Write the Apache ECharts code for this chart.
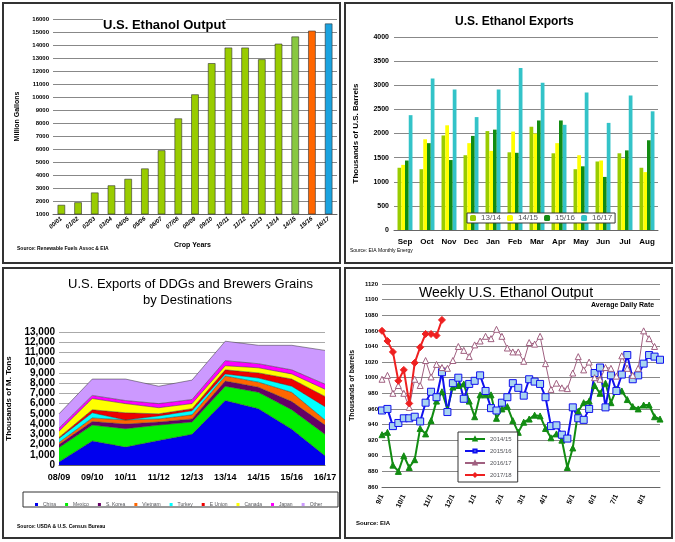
<!DOCTYPE html>
<html><head><meta charset="utf-8">
<script src="https://cdn.jsdelivr.net/npm/echarts@6/dist/echarts.min.js"></script>
<style>html,body{margin:0;padding:0;background:#fff}#c{width:675px;height:542px}</style>
</head><body><div id="c"></div>
<script>
// Panel 1
const cropYears = ['00/01','01/02','02/03','03/04','04/05','05/06','06/07','07/08','08/09','09/10','10/11','11/12','12/13','13/14','14/15','15/16','16/17'];
const outputValues = [1700,1900,2650,3200,3700,4500,5900,8350,10200,12600,13800,13800,12900,14100,14650,15100,15650];
// Panel 2
const months = ['Sep','Oct','Nov','Dec','Jan','Feb','Mar','Apr','May','Jun','Jul','Aug'];
const exp1314 = [1290,1260,1960,1550,2050,1610,2140,1590,1260,1420,1590,1290];
const exp1415 = [1350,1880,2170,1800,1640,2040,2000,1800,1550,1440,1480,1200];
const exp1516 = [1440,1800,1450,1950,2080,1600,2270,2270,1320,1100,1650,1860];
const exp1617 = [2380,3140,2910,2340,2910,3360,3050,2180,2850,2220,2790,2460];
// Panel 3
const ddgYears = ['08/09','09/10','10/11','11/12','12/13','13/14','14/15','15/16','16/17'];
const china   = [300,2350,1750,2400,3000,6300,5500,3500,900];
const mexico  = [1400,1550,1800,1500,1200,1400,1600,1900,2100];
const skorea  = [300,350,450,300,300,500,500,800,900];
const vietnam = [200,350,400,300,400,500,500,900,500];
const turkey  = [400,500,0,300,400,200,400,600,1300];
const eunion  = [100,300,700,200,200,400,500,700,1000];
const canada  = [600,1100,900,600,500,400,500,500,700];
const japan   = [300,300,300,400,400,500,400,400,500];
const other   = [1400,1600,2100,1700,1900,1900,1800,2400,3300];
// Panel 4
const weekLabels = {0:'9/1',4:'10/1',9:'11/1',13:'12/1',17:'1/1',22:'2/1',26:'3/1',30:'4/1',35:'5/1',39:'6/1',43:'7/1',48:'8/1'};
const w1415 = [927,930,888,880,900,885,895,935,928,945,970,982,960,988,990,992,970,950,978,978,978,948,960,963,945,930,943,947,952,951,935,923,928,920,885,910,957,968,970,990,980,993,968,985,983,972,963,960,965,965,950,947];
const w1516 = [958,960,938,942,948,948,950,944,968,982,975,1007,956,993,1000,973,992,996,1003,983,961,958,968,975,993,987,977,998,995,992,975,938,939,927,922,962,948,946,960,1006,1013,962,1003,983,1004,1029,998,1003,1018,1029,1027,1023];
const w1617 = [998,1003,980,990,980,962,998,990,1022,1001,1017,1013,1012,1022,1040,1035,1027,1042,1047,1053,1050,1062,1053,1038,1033,1033,1021,1045,1043,1053,1018,985,993,987,986,1006,1027,1010,1020,1000,998,1013,1012,1002,1028,1012,1003,1012,1060,1050,1040];
const w1718 = [1060,1047,1033,996,1010,967,1019,1039,1056,1056,1054,1074];
const weeks = Array.from({length:52},(_,i)=>i);

const F = 'Liberation Sans, Arial, sans-serif';
const plain = v => String(v);
const bar1Colors = outputValues.map((v,i)=> i===16?'#1aa3e0': i===15?'#ff6600': i===14?'#88c840':'#99cc00');
const chart = echarts.init(document.getElementById('c'));
const gl = {lineStyle:{color:'#888'}};
const ax = {axisLine:{lineStyle:{color:'#666'}}, axisTick:{show:false}};
function ddgSeries(name,data,color){
  return {name, type:'line', xAxisIndex:2, yAxisIndex:2, stack:'d', data, symbol:'none',
    lineStyle:{width:0.5,color:'#333'}, areaStyle:{color, opacity:1}, itemStyle:{color}};
}
function wk(name,data,color,sym,ss,fill){
  return {name,type:'line',xAxisIndex:3,yAxisIndex:3,data,symbol:sym,symbolSize:ss,showSymbol:true,showAllSymbol:true,
    lineStyle:{color,width:name==='2016/17'?1:2}, itemStyle:{color:fill||color,borderColor:color,borderWidth:1}};
}
chart.setOption({
  animation:false,
  textStyle:{fontFamily:F},
  graphic:[
    {type:'rect',shape:{x:3,y:3,width:337,height:260},style:{fill:'none',stroke:'#333',lineWidth:2}},
    {type:'rect',shape:{x:345,y:3,width:327,height:260},style:{fill:'none',stroke:'#333',lineWidth:2}},
    {type:'rect',shape:{x:3,y:268,width:337,height:270},style:{fill:'none',stroke:'#333',lineWidth:2}},
    {type:'rect',shape:{x:345,y:268,width:327,height:270},style:{fill:'none',stroke:'#333',lineWidth:2}},
    {type:'text',left:103,top:19,z:10,style:{text:'U.S. Ethanol Output',font:'bold 13px '+F,fill:'#000',backgroundColor:'#fff'}},
    {type:'text',left:455,top:16,style:{text:'U.S. Ethanol Exports',font:'bold 12px '+F,fill:'#000'}},
    {type:'text',left:68,top:278,style:{text:'U.S. Exports of DDGs and Brewers Grains',font:'13px '+F,fill:'#000'}},
    {type:'text',left:143,top:294,style:{text:'by Destinations',font:'13px '+F,fill:'#000'}},
    {type:'text',left:419,top:286,style:{text:'Weekly U.S. Ethanol Output',font:'14px '+F,fill:'#000'}},
    {type:'text',left:591,top:302,style:{text:'Average Daily Rate',font:'bold 7px '+F,fill:'#000'}},
    {type:'text',left:17,top:246,style:{text:'Source: Renewable Fuels Assoc & EIA',font:'bold 5px '+F,fill:'#000'}},
    {type:'text',left:174,top:242,style:{text:'Crop Years',font:'bold 7px '+F,fill:'#000'}},
    {type:'text',left:350,top:248,style:{text:'Source: EIA Monthly Energy',font:'5px '+F,fill:'#000'}},
    {type:'text',left:17,top:524,style:{text:'Source: USDA & U.S. Census Bureau',font:'bold 5px '+F,fill:'#000'}},
    {type:'text',left:356,top:520,style:{text:'Source: EIA',font:'bold 6px '+F,fill:'#000'}},
    {type:'rect',shape:{x:23,y:492,width:315,height:15},style:{fill:'#fff',stroke:'#333',lineWidth:1},z:-1}
  ],
  legend:[
    {data:['13/14','14/15','15/16','16/17'],left:467,top:213,orient:'horizontal',itemWidth:6,itemHeight:6,itemGap:6,
     backgroundColor:'#fff',borderColor:'#333',borderWidth:1,padding:[1,3],textStyle:{fontSize:8,fontFamily:F}},
    {data:['China','Mexico','S. Korea','Vietnam','Turkey','E Union','Canada','Japan','Other'],left:30,top:497,itemWidth:3,itemHeight:3,itemGap:9,
     textStyle:{fontSize:5,fontFamily:F},icon:'rect'},
    {data:['2014/15','2015/16','2016/17','2017/18'],orient:'vertical',left:458,top:432,itemWidth:20,itemHeight:4,itemGap:6,
     backgroundColor:'#fff',borderColor:'#333',borderWidth:1,padding:[4,6],textStyle:{fontSize:6,fontFamily:F}}
  ],
  grid:[
    {left:53,top:19,width:284,height:195},
    {left:394,top:37,width:264,height:193},
    {left:59,top:332,width:266,height:133},
    {left:382,top:284,width:278,height:203}
  ],
  xAxis:[
    {gridIndex:0,type:'category',data:cropYears,...ax,axisLabel:{rotate:40,fontSize:6,fontStyle:'italic',fontWeight:'bold',color:'#000',interval:0,margin:4}},
    {gridIndex:1,type:'category',data:months,...ax,axisLabel:{fontSize:8,fontWeight:'bold',color:'#000',interval:0,margin:8}},
    {gridIndex:2,type:'category',data:ddgYears,boundaryGap:false,...ax,axisLabel:{fontSize:9,fontWeight:'bold',color:'#000',interval:0,margin:8}},
    {gridIndex:3,type:'category',data:weeks,boundaryGap:false,...ax,
     axisLabel:{rotate:65,fontSize:7,fontWeight:'bold',color:'#000',interval:(i)=>weekLabels[i]!==undefined,formatter:(v,i)=>weekLabels[i]||''}}
  ],
  yAxis:[
    {gridIndex:0,type:'value',min:1000,max:16000,interval:1000,...ax,splitLine:gl,name:'Million Gallons',nameLocation:'middle',nameGap:32,
     nameTextStyle:{fontSize:7,fontWeight:'bold',color:'#000'},axisLabel:{fontSize:6,fontWeight:'bold',color:'#000',margin:4,formatter:plain}},
    {gridIndex:1,type:'value',min:0,max:4000,interval:500,...ax,splitLine:gl,name:'Thousands of U.S. Barrels',nameLocation:'middle',nameGap:34,
     nameTextStyle:{fontSize:8,fontWeight:'bold',color:'#000'},axisLabel:{fontSize:7,fontWeight:'bold',color:'#000',margin:5,formatter:plain}},
    {gridIndex:2,type:'value',min:0,max:13000,interval:1000,...ax,splitLine:{lineStyle:{color:'#aaa'}},name:'Thousands of M. Tons',nameLocation:'middle',nameGap:46,
     nameTextStyle:{fontSize:8,fontWeight:'bold',color:'#000'},axisLabel:{fontSize:10,fontWeight:'bold',color:'#000',margin:4,formatter:v=>v.toLocaleString('en-US')}},
    {gridIndex:3,type:'value',min:860,max:1120,interval:20,...ax,splitLine:gl,name:'Thousands of barrels',nameLocation:'middle',nameGap:26,
     nameTextStyle:{fontSize:7,fontWeight:'bold',color:'#000'},axisLabel:{fontSize:6,fontWeight:'bold',color:'#000',margin:4,formatter:plain}}
  ],
  series:[
    {type:'bar',xAxisIndex:0,yAxisIndex:0,data:outputValues.map((v,i)=>({value:v,itemStyle:{color:bar1Colors[i]}})),barWidth:'45%',
     itemStyle:{borderColor:'#333',borderWidth:0.6}},
    {name:'13/14',type:'bar',xAxisIndex:1,yAxisIndex:1,data:exp1314,barGap:'0%',barWidth:'17%',itemStyle:{color:'#99cc00'}},
    {name:'14/15',type:'bar',xAxisIndex:1,yAxisIndex:1,data:exp1415,barWidth:'17%',itemStyle:{color:'#ffff00'}},
    {name:'15/16',type:'bar',xAxisIndex:1,yAxisIndex:1,data:exp1516,barWidth:'17%',itemStyle:{color:'#128c12'}},
    {name:'16/17',type:'bar',xAxisIndex:1,yAxisIndex:1,data:exp1617,barWidth:'17%',itemStyle:{color:'#33c3c8'}},
    ddgSeries('China',china,'#0000ee'),
    ddgSeries('Mexico',mexico,'#00ee00'),
    ddgSeries('S. Korea',skorea,'#660066'),
    ddgSeries('Vietnam',vietnam,'#ff6600'),
    ddgSeries('Turkey',turkey,'#00ffff'),
    ddgSeries('E Union',eunion,'#ee0000'),
    ddgSeries('Canada',canada,'#ffff00'),
    ddgSeries('Japan',japan,'#ff00ff'),
    ddgSeries('Other',other,'#cc99ff'),
    wk('2014/15',w1415,'#128c12','triangle',6),
    wk('2015/16',w1516,'#1010ee','rect',7,'#a8d4f0'),
    wk('2016/17',w1617,'#a06080','triangle',6,'#fff'),
    wk('2017/18',w1718,'#ee2020','diamond',7)
  ]
});
</script></body></html>
